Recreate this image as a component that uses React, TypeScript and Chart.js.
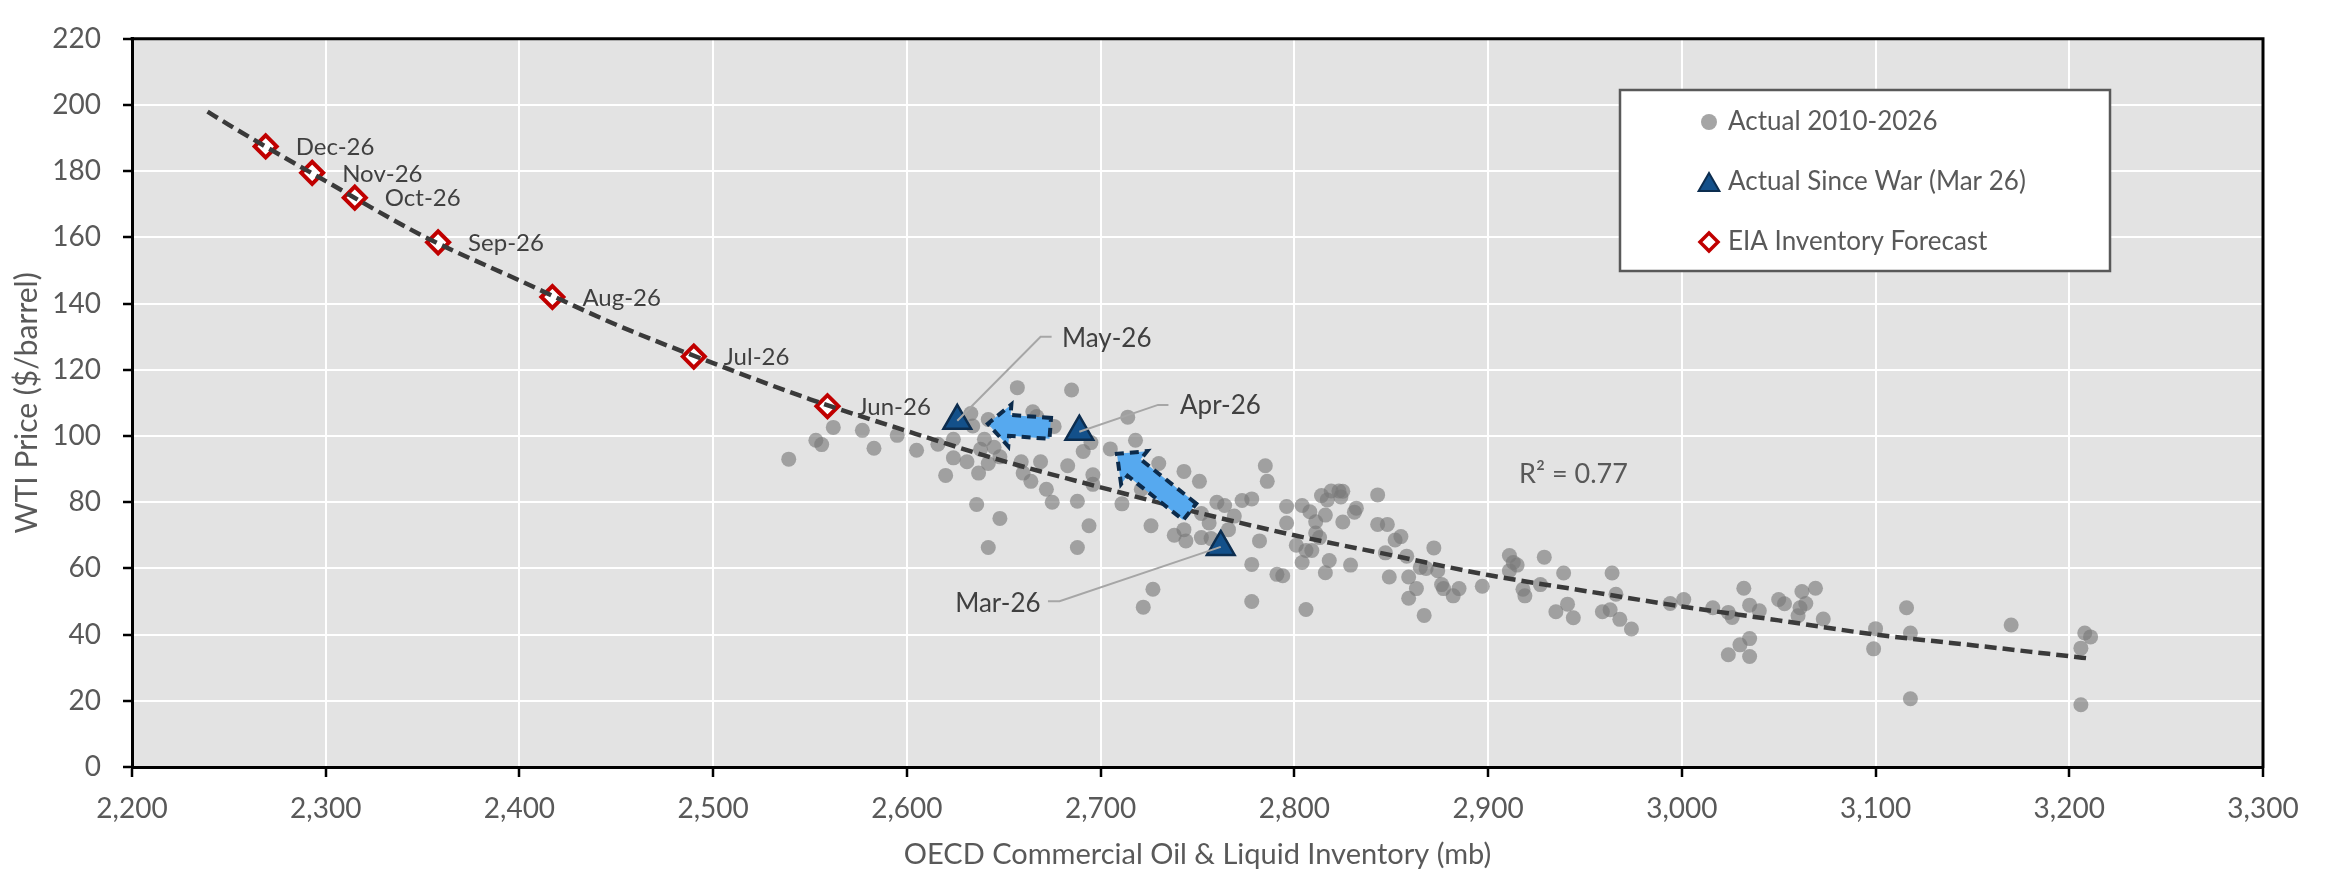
import React, { useEffect, useRef } from 'react';
import { Chart, registerables } from 'chart.js';

Chart.register(...registerables);

// ---------- Data ----------
const actualInventory = [
  2539, 2553, 2556, 2562, 2577, 2583, 2595, 2605, 2616, 2624, 2624, 2620, 2633, 2634, 2631, 2637, 2636, 2648, 2642, 2642,
  2640, 2638, 2645, 2648, 2642, 2657, 2665, 2667, 2659, 2669, 2660, 2664, 2672, 2675, 2685, 2676, 2714, 2695, 2691, 2705,
  2718, 2683, 2696, 2696, 2688, 2711, 2694, 2688, 2730, 2721, 2743, 2751, 2726, 2738, 2743, 2744, 2752, 2757, 2752, 2756,
  2760, 2764, 2766, 2769, 2773, 2778, 2785, 2786, 2782, 2778, 2778, 2727, 2722, 2791, 2794, 2796, 2796, 2801, 2804, 2808,
  2811, 2816, 2811, 2813, 2806, 2809, 2804, 2818, 2816, 2806, 2814, 2819, 2817, 2823, 2825, 2824, 2825, 2831, 2832, 2843,
  2843, 2848, 2852, 2855, 2847, 2858, 2849, 2859, 2863, 2859, 2867, 2829, 2865, 2868, 2872, 2874, 2876, 2877, 2882, 2885,
  2897, 2911, 2913, 2915, 2911, 2918, 2919, 2927, 2929, 2939, 2941, 2935, 2944, 2959, 2963, 2964, 2966, 2968, 2974, 2994,
  3001, 3016, 3024, 3026, 3032, 3035, 3040, 3035, 3030, 3024, 3035, 3050, 3053, 3062, 3069, 3064, 3061, 3060, 3073, 3100,
  3099, 3116, 3118, 3118, 3170, 3208, 3211, 3206, 3206,
];
const actualPrice = [
  93, 98.7, 97.4, 102.6, 101.7, 96.3, 100.2, 95.7, 97.5, 99, 93.4, 88.1, 106.8, 103, 92.2, 88.8, 79.3, 75.1, 66.3, 105,
  99, 96, 96.6, 93.7, 91.7, 114.6, 107.3, 105.9, 92.2, 92.2, 88.8, 86.3, 83.9, 80, 113.9, 102.9, 105.7, 98, 95.3, 96.1,
  98.7, 91, 88.3, 85.4, 80.3, 79.5, 72.9, 66.3, 91.7, 83.9, 89.3, 86.3, 72.9, 70, 71.7, 68.3, 69.3, 69, 76.6, 73.7,
  80, 79, 71.7, 75.8, 80.5, 81, 91, 86.3, 68.3, 61.2, 50, 53.7, 48.3, 58.2, 57.8, 78.7, 73.7, 67, 79, 77.1,
  74.1, 76.1, 70.7, 69.3, 65.4, 65.4, 61.8, 62.4, 58.7, 47.6, 82, 83.4, 80.7, 83.4, 83.3, 81.6, 74, 77, 78.2, 82.2,
  73.3, 73.3, 68.6, 69.6, 64.7, 63.7, 57.4, 57.4, 53.9, 51, 45.8, 61, 60.3, 60, 66.2, 59.3, 55.1, 53.9, 51.7, 53.9,
  54.6, 63.9, 61.8, 61, 59.3, 53.7, 51.7, 55.1, 63.4, 58.6, 49.2, 46.9, 45.1, 46.9, 47.5, 58.6, 52.2, 44.6, 41.7, 49.4,
  50.6, 48.1, 46.7, 45.2, 54, 48.9, 47.2, 38.8, 36.9, 33.9, 33.4, 50.6, 49.3, 53, 54, 49.4, 48.1, 45.7, 44.7, 41.8,
  35.7, 48.1, 40.5, 20.6, 42.9, 40.5, 39.3, 35.9, 18.8,
];

const warLabels = ['Mar-26', 'Apr-26', 'May-26'];
const warInventory = [2762, 2689, 2626];
const warPrice = [66.5, 101.3, 104.6];

const forecastLabels = ['Jun-26', 'Jul-26', 'Aug-26', 'Sep-26', 'Oct-26', 'Nov-26', 'Dec-26'];
const forecastInventory = [2559, 2490, 2417, 2358, 2315, 2293, 2269];
const forecastPrice = [109, 124, 142, 158.5, 172, 179.5, 187.5];

const trendInventory = [2239, 2250, 2300, 2350, 2400, 2450, 2500, 2550, 2600, 2650, 2700, 2750, 2800, 2850, 2900, 2950, 3000, 3050, 3100, 3150, 3210];
const trendPrice = [198, 194, 177, 160.5, 147, 133.6, 122, 111.1, 101.5, 92.4, 84.5, 76.9, 70, 64, 58, 53.2, 48.5, 44.3, 40, 36.8, 32.8];

const xTickMin = 2200;
const xTickMax = 3300;
const yTickMin = 0;
const yTickMax = 220;

// annotation anchors (data units)
const arrowTail = [[2746, 77.1], [2674, 102.3]];
const arrowTip = [[2708.4, 94.6], [2641.8, 103.7]];
const calloutText = warLabels;
const calloutElbow = [[2678.8, 50.1], [2729.6, 109.4], [2669, 130]];
const calloutEnd = [[2672.8, 50.1], [2735, 109.4], [2674.7, 130]];
const calloutTextAt = [[2669, 49.5], [2741, 109.2], [2680, 129.4]];
const rSquaredText = 'R² = 0.77';
const rSquaredAt = [2916, 88.3];

const legendItems = ['Actual 2010-2026', 'Actual Since War (Mar 26)', 'EIA Inventory Forecast'];

const FONT = 'Lato, "Open Sans", sans-serif';
const GRAY_DOT = 'rgba(120,120,120,0.63)';
const TRI_FILL = '#13508A';
const TRI_BORDER = '#0C2D4F';
const RED = '#C00000';

function drawTriangle(ctx: CanvasRenderingContext2D, x: number, y: number, r: number) {
  ctx.beginPath();
  for (let i = 0; i < 3; i++) {
    const a = (i * 2 * Math.PI) / 3;
    const px = x + Math.sin(a) * r;
    const py = y - Math.cos(a) * r;
    if (i === 0) ctx.moveTo(px, py);
    else ctx.lineTo(px, py);
  }
  ctx.closePath();
}

function drawArrow(ctx: CanvasRenderingContext2D, x0: number, y0: number, x1: number, y1: number) {
  const dx = x1 - x0;
  const dy = y1 - y0;
  const L = Math.hypot(dx, dy);
  const ux = dx / L;
  const uy = dy / L;
  const nx = -uy;
  const ny = ux;
  const hl = 22;
  const hw = 21;
  const sw = 10.5;
  const bx = x1 - ux * hl;
  const by = y1 - uy * hl;
  const pts = [
    [x0 + nx * sw, y0 + ny * sw],
    [bx + nx * sw, by + ny * sw],
    [bx + nx * hw, by + ny * hw],
    [x1, y1],
    [bx - nx * hw, by - ny * hw],
    [bx - nx * sw, by - ny * sw],
    [x0 - nx * sw, y0 - ny * sw],
  ];
  ctx.beginPath();
  pts.forEach((p, i) => (i === 0 ? ctx.moveTo(p[0], p[1]) : ctx.lineTo(p[0], p[1])));
  ctx.closePath();
  ctx.fillStyle = '#56A9EF';
  ctx.fill();
  ctx.setLineDash([9, 6]);
  ctx.lineWidth = 4;
  ctx.strokeStyle = '#0C2B4B';
  ctx.lineJoin = 'miter';
  ctx.stroke();
  ctx.setLineDash([]);
}

const decorPlugin = {
  id: 'decor',
  beforeDraw(chart: any) {
    const { ctx, chartArea: a, width, height } = chart;
    ctx.save();
    ctx.fillStyle = '#FFFFFF';
    ctx.fillRect(0, 0, width, height);
    ctx.fillStyle = '#E3E3E3';
    ctx.fillRect(a.left, a.top, a.right - a.left, a.bottom - a.top);
    ctx.restore();
  },
  beforeDatasetsDraw(chart: any) {
    const { ctx, chartArea: a } = chart;
    ctx.save();
    ctx.strokeStyle = '#000000';
    ctx.lineWidth = 3;
    ctx.beginPath();
    ctx.moveTo(a.left - 1.5, a.top);
    ctx.lineTo(a.right, a.top);
    ctx.lineTo(a.right, a.bottom + 1.5);
    ctx.stroke();
    ctx.restore();
  },
  afterDatasetsDraw(chart: any) {
    const { ctx } = chart;
    const xs = chart.scales.x;
    const ys = chart.scales.y;
    const X = (v: number) => xs.getPixelForValue(v);
    const Y = (v: number) => ys.getPixelForValue(v);
    ctx.save();

    // arrows
    for (let i = 0; i < arrowTail.length; i++) {
      drawArrow(ctx, X(arrowTail[i][0]), Y(arrowTail[i][1]), X(arrowTip[i][0]), Y(arrowTip[i][1]));
    }

    // callout leader lines
    ctx.strokeStyle = '#A6A6A6';
    ctx.lineWidth = 2;
    for (let i = 0; i < warInventory.length; i++) {
      ctx.beginPath();
      ctx.moveTo(X(warInventory[i]), Y(warPrice[i]));
      ctx.lineTo(X(calloutElbow[i][0]), Y(calloutElbow[i][1]));
      ctx.lineTo(X(calloutEnd[i][0]), Y(calloutEnd[i][1]));
      ctx.stroke();
    }

    // callout texts
    ctx.fillStyle = '#404040';
    ctx.font = `26px ${FONT}`;
    ctx.textBaseline = 'middle';
    for (let i = 0; i < calloutText.length; i++) {
      ctx.textAlign = i === 0 ? 'right' : 'left';
      ctx.fillText(calloutText[i], X(calloutTextAt[i][0]), Y(calloutTextAt[i][1]));
    }

    // forecast labels
    ctx.font = `24px ${FONT}`;
    ctx.textAlign = 'left';
    for (let i = 0; i < forecastLabels.length; i++) {
      ctx.fillText(forecastLabels[i], X(forecastInventory[i]) + 30, Y(forecastPrice[i]) + 1);
    }

    // R squared
    ctx.fillStyle = '#595959';
    ctx.font = `27px ${FONT}`;
    ctx.fillText(rSquaredText, X(rSquaredAt[0]), Y(rSquaredAt[1]));

    // legend
    const lx = 1620;
    const ly = 90;
    const lw = 490;
    const lh = 181;
    ctx.fillStyle = '#FFFFFF';
    ctx.fillRect(lx, ly, lw, lh);
    ctx.strokeStyle = '#595959';
    ctx.lineWidth = 2.5;
    ctx.strokeRect(lx, ly, lw, lh);
    const mx = lx + 89;
    const tx = lx + 108;
    const rows = [ly + 32, ly + 92, ly + 152];
    // circle
    ctx.beginPath();
    ctx.arc(mx, rows[0], 8, 0, Math.PI * 2);
    ctx.fillStyle = '#A5A5A5';
    ctx.fill();
    // triangle
    drawTriangle(ctx, mx, rows[1] + 3, 12);
    ctx.fillStyle = TRI_FILL;
    ctx.fill();
    ctx.strokeStyle = TRI_BORDER;
    ctx.lineWidth = 2;
    ctx.stroke();
    // diamond
    ctx.beginPath();
    const d = 9;
    ctx.moveTo(mx - d, rows[2]);
    ctx.lineTo(mx, rows[2] - d);
    ctx.lineTo(mx + d, rows[2]);
    ctx.lineTo(mx, rows[2] + d);
    ctx.closePath();
    ctx.fillStyle = '#FFFFFF';
    ctx.fill();
    ctx.strokeStyle = RED;
    ctx.lineWidth = 3.5;
    ctx.stroke();
    ctx.fillStyle = '#595959';
    ctx.font = `26px ${FONT}`;
    ctx.textAlign = 'left';
    ctx.textBaseline = 'middle';
    legendItems.forEach((t, i) => ctx.fillText(t, tx, rows[i]));

    ctx.restore();
  },
};

export default function App() {
  const canvasRef = useRef<HTMLCanvasElement | null>(null);

  useEffect(() => {
    document.body.style.margin = '0';
    const canvas = canvasRef.current;
    if (!canvas) return;

    const pts = (xs: number[], ys: number[]) => xs.map((x, i) => ({ x, y: ys[i] }));

    const chart = new Chart(canvas, {
      type: 'scatter',
      data: {
        datasets: [
          {
            label: 'Actual 2010-2026',
            data: pts(actualInventory, actualPrice),
            pointRadius: 7.5,
            pointBackgroundColor: GRAY_DOT,
            pointBorderWidth: 0,
            pointBorderColor: 'rgba(0,0,0,0)',
            order: 4,
          },
          {
            label: 'EIA Inventory Forecast',
            data: pts(forecastInventory, forecastPrice),
            pointStyle: 'rectRot',
            pointRadius: 11,
            pointBackgroundColor: '#FFFFFF',
            pointBorderColor: RED,
            pointBorderWidth: 4,
            order: 3,
          },
          {
            label: 'Trend',
            data: pts(trendInventory, trendPrice),
            showLine: true,
            pointRadius: 0,
            borderColor: '#3A3A3A',
            borderWidth: 4.5,
            borderDash: [12, 6],
            cubicInterpolationMode: 'monotone',
            fill: false,
            order: 2,
          },
          {
            label: 'Actual Since War (Mar 26)',
            data: pts(warInventory, warPrice),
            pointStyle: 'triangle',
            pointRadius: 16,
            pointBackgroundColor: TRI_FILL,
            pointBorderColor: TRI_BORDER,
            pointBorderWidth: 2.5,
            order: 1,
          },
        ],
      },
      options: {
        responsive: false,
        animation: false,
        events: [],
        layout: { padding: { left: 0, right: 63, top: 22, bottom: 0 } },
        plugins: {
          legend: { display: false },
          tooltip: { enabled: false },
        },
        scales: {
          x: {
            type: 'linear',
            position: 'bottom',
            min: xTickMin,
            max: xTickMax,
            ticks: {
              stepSize: 100,
              color: '#595959',
              font: { family: FONT, size: 28 },
              padding: 15,
              maxRotation: 0,
              callback: (v: any) => Number(v).toLocaleString('en-US'),
            },
            grid: {
              color: '#FFFFFF',
              lineWidth: 2,
              tickColor: '#000000',
              tickLength: 10,
              tickWidth: 2.5,
            },
            border: { color: '#000000', width: 3 },
            title: {
              display: true,
              text: 'OECD Commercial Oil & Liquid Inventory (mb)',
              color: '#595959',
              font: { family: FONT, size: 29 },
              padding: { top: 0, bottom: 0 },
            },
            afterFit: (s: any) => {
              s.height = 105;
            },
          },
          y: {
            type: 'linear',
            min: yTickMin,
            max: yTickMax,
            ticks: {
              stepSize: 20,
              color: '#595959',
              font: { family: FONT, size: 28 },
              padding: 22,
            },
            grid: {
              color: '#FFFFFF',
              lineWidth: 2,
              tickColor: '#000000',
              tickLength: 9,
              tickWidth: 2.5,
            },
            border: { color: '#000000', width: 3 },
            title: {
              display: true,
              text: 'WTI Price ($/barrel)',
              color: '#595959',
              font: { family: FONT, size: 30 },
              padding: { top: 9, bottom: 0 },
            },
            afterFit: (s: any) => {
              s.width = 132;
            },
          },
        },
      },
      plugins: [decorPlugin],
    } as any);

    return () => chart.destroy();
  }, []);

  return (
    <div style={{ width: 2326, height: 872, position: 'relative', background: '#fff' }}>
      <canvas ref={canvasRef} width={2326} height={872} style={{ display: 'block' }} />
    </div>
  );
}
